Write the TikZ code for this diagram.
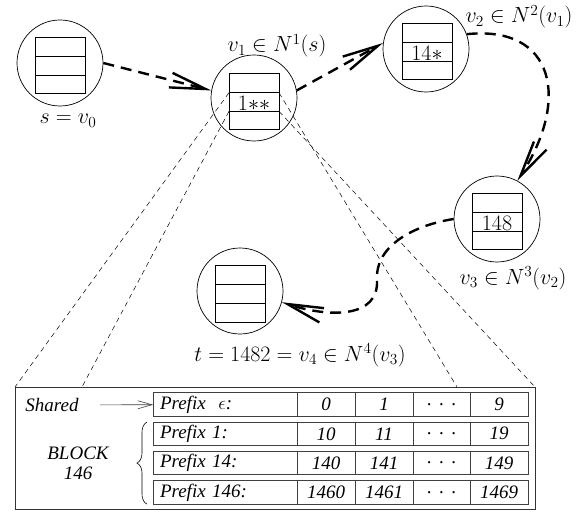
\RequirePackage{fix-cm}
\documentclass[tikz,border=0pt]{standalone}
\usepackage{fontspec}
\newfontfamily\tabfont{Liberation Serif}
\usepackage{amssymb}
\usepackage{amsmath}
\usetikzlibrary{arrows.meta,calc,positioning,decorations.pathreplacing}

\tikzset{
  vertex/.style={circle, draw, line width=0.7pt, minimum size=86pt, inner sep=0pt},
  lbl/.style={font=\fontsize{22}{26}\selectfont},
  txt/.style={font=\tabfont\itshape\fontsize{19}{20}\selectfont},
  hop/.style={line width=2.4pt, dash pattern=on 11pt off 7pt, -{Straight Barb[length=36pt,width=15pt]}},
  zoomline/.style={line width=0.5pt, dash pattern=on 5pt off 4pt},
  cell/.style={txt, draw=black!75, line width=0.9pt, minimum height=23.5pt, inner sep=0pt, outer sep=0pt},
  pics/bucket/.style={code={
    \draw[line width=1pt] (-25,-28) rectangle (25,28);
    \draw[line width=1pt] (-25,-9.3) coordinate (-tl) -- (25,-9.3) coordinate (-tr);
    \draw[line width=1pt] (-25,9.3) coordinate (-bl) -- (25,9.3) coordinate (-br);
    \node[lbl, inner sep=0pt] at (0,1) {#1};
  }}
}

\begin{document}
\begin{tikzpicture}[x=1pt, y=-1pt]
\useasboundingbox (0,0) rectangle (584,513);

% the walk
\node[vertex] (s) at (60,63) {};
\node[vertex] (v1) at (254,98) {};
\node[vertex] (v2) at (426,49) {};
\node[vertex] (v3) at (497,219) {};
\node[vertex] (t) at (240,291) {};
\pic (b0) at (60,66) {bucket={}};
\pic (b1) at (254,102) {bucket={$1{*}{*}$}};
\pic (b2) at (427,52) {bucket={$14{*}$}};
\pic (b3) at (497,222) {bucket={$148$}};
\pic (b4) at (240,294) {bucket={}};

\node[lbl, anchor=base] (ls) at (68,124) {$s=v_0$};
\node[lbl, anchor=base] (l1) at (277,52) {$v_1\in N^1(s)$};
\node[lbl, anchor=base] (l2) at (519,23) {$v_2\in N^2(v_1)$};
\node[lbl, anchor=base] (l3) at (513,284) {$v_3\in N^3(v_2)$};
\node[lbl, anchor=base] (lt) at (300,361) {$t=1482=v_4\in N^4(v_3)$};

\draw[hop] (s.east) -- (v1.170);
\draw[hop] (v1.10) -- (v2.172);
\draw[hop] (v2.20) .. controls (555,25) and (570,100) .. (v3.62);
\draw[hop] (v3.west) .. controls (415,225) and (375,245) .. (377,280)
  .. controls (379,318) and (330,318) .. (t.-15);

% the block
\node[draw=black!80, line width=0.8pt, minimum width=520pt, minimum height=122pt, inner sep=0pt, outer sep=0pt] (block) at (275,448) {};
\coordinate (lfoot) at (82,387);
\coordinate (rfoot) at (457,387);
\draw[zoomline] (b1-tl) -- (block.north west);
\draw[zoomline] (b1-bl) -- (lfoot);
\draw[zoomline] (b1-tr) -- (rfoot);
\draw[zoomline] (b1-br) -- (block.north east);

\foreach \pre/\first/\second/\last [count=\r] in {{Prefix\ \ $\epsilon$:}/0/1/9, {Prefix 1:}/10/11/19, {Prefix 14:}/140/141/149, {Prefix 146:}/1460/1461/1469} {
  \node[cell, minimum width=144pt, text width=130pt, align=left] (p\r) at (225,375.2+29.3*\r) {\pre};
  \node[cell, minimum width=58pt, right=0pt of p\r] (a\r) {\first};
  \node[cell, minimum width=58pt, right=0pt of a\r] (b\r) {\second};
  \node[cell, minimum width=57pt, right=0pt of b\r] (d\r) {\upshape.\hspace{0.4em}.\hspace{0.4em}.};
  \node[cell, minimum width=58pt, right=0pt of d\r] (c\r) {\last};
}

\node[txt] (shared) at (52,405) {Shared};
\draw[line width=0.6pt, black!75, shorten <=18pt, -{Straight Barb[length=14pt,width=8pt]}] (shared) -- (p1);
\node[txt, align=center] (blk) at (78,463) {BLOCK\\146};
\draw[decorate, decoration={brace, amplitude=10pt}, line width=0.6pt] ([xshift=-6pt]p4.south west) -- ([xshift=-6pt]p2.north west);
\end{tikzpicture}
\end{document}
